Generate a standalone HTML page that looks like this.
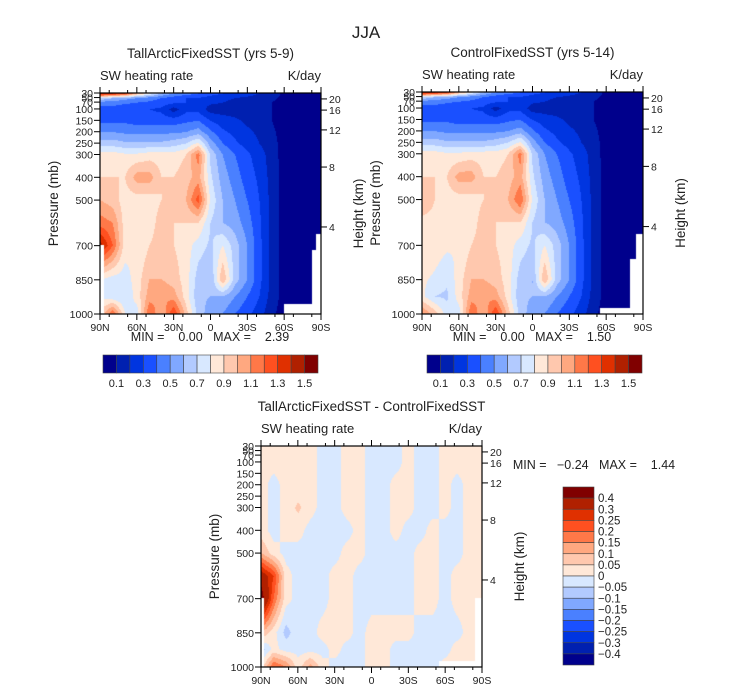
<!DOCTYPE html>
<html><head><meta charset="utf-8">
<style>
body{margin:0;background:#fff;width:733px;height:691px;overflow:hidden;position:relative;font-family:"Liberation Sans",sans-serif;color:#222}
svg{position:absolute;left:0;top:0}
canvas{position:absolute}
</style></head><body>
<canvas id="c1" width="221" height="221" style="left:100px;top:93px"></canvas>
<canvas id="c2" width="221" height="222" style="left:422px;top:92px"></canvas>
<canvas id="c3" width="221" height="221" style="left:261px;top:446px"></canvas>
<svg id="s" width="733" height="691"></svg>
<script>
// ---- data ----
const lats = [90,80,70,60,50,40,30,20,10,0,-10,-20,-30,-40,-50,-60,-70,-80,-90];
const pLevels = [30,50,70,100,150,200,250,300,400,500,600,700,850,925,1000];
const swTall = [
[1.45,1.4,1.3,1.0,0.8,0.6,0.5,0.45,0.4,0.35,0.3,0.28,0.25,0.2,0.15,0.08,0.05,0.05,0.05],
[0.7,0.6,0.55,0.5,0.45,0.4,0.35,0.3,0.3,0.25,0.22,0.2,0.18,0.15,0.12,0.08,0.05,0.05,0.05],
[0.45,0.45,0.42,0.4,0.38,0.35,0.32,0.3,0.25,0.22,0.2,0.18,0.16,0.14,0.1,0.07,0.05,0.05,0.05],
[0.35,0.35,0.33,0.32,0.3,0.28,0.15,0.27,0.27,0.15,0.15,0.15,0.14,0.12,0.1,0.06,0.05,0.05,0.05],
[0.38,0.38,0.38,0.35,0.35,0.35,0.35,0.38,0.4,0.3,0.25,0.22,0.18,0.15,0.1,0.06,0.05,0.05,0.05],
[0.5,0.5,0.48,0.48,0.48,0.48,0.48,0.5,0.55,0.42,0.32,0.27,0.22,0.18,0.12,0.06,0.05,0.05,0.05],
[0.65,0.65,0.62,0.62,0.62,0.62,0.65,0.7,0.82,0.55,0.4,0.32,0.26,0.2,0.14,0.06,0.05,0.05,0.05],
[0.85,0.85,0.82,0.82,0.85,0.85,0.85,0.9,1.15,0.68,0.5,0.4,0.32,0.25,0.15,0.06,0.05,0.05,0.05],
[0.9,0.9,0.9,1.05,1.05,0.9,0.9,0.95,1.05,0.72,0.55,0.45,0.35,0.28,0.16,0.06,0.05,0.05,0.05],
[1.0,0.95,0.85,0.85,0.85,0.9,0.95,1.0,1.25,0.78,0.6,0.5,0.4,0.3,0.17,0.06,0.05,0.05,0.05],
[1.15,1.1,0.85,0.82,0.85,0.95,0.9,0.9,0.9,0.7,0.6,0.55,0.45,0.32,0.17,0.06,0.05,0.05,0.05],
[1.45,1.2,0.85,0.8,0.9,0.95,0.9,0.85,0.75,0.68,0.8,0.65,0.5,0.33,0.17,0.06,0.05,0.05,0.05],
[0.8,0.75,0.75,0.85,1.0,1.0,0.95,0.85,0.65,0.6,1.0,0.65,0.5,0.33,0.17,0.06,0.05,0.05,0.05],
[0.78,0.72,0.7,0.85,1.05,1.1,1.05,0.85,0.62,0.6,0.6,0.5,0.4,0.3,0.16,0.06,0.05,0.05,0.05],
[0.9,1.2,0.8,0.75,1.2,1.0,1.3,0.95,0.65,0.55,0.5,0.4,0.33,0.25,0.12,0.06,0.05,0.05,0.05]];
const swCtrl = [
[1.45,1.4,1.3,1.0,0.8,0.6,0.5,0.45,0.4,0.35,0.3,0.28,0.25,0.2,0.15,0.08,0.05,0.05,0.05],
[0.7,0.6,0.55,0.5,0.45,0.4,0.35,0.3,0.3,0.25,0.22,0.2,0.18,0.15,0.12,0.08,0.05,0.05,0.05],
[0.45,0.45,0.42,0.4,0.38,0.35,0.32,0.3,0.25,0.22,0.2,0.18,0.16,0.14,0.1,0.07,0.05,0.05,0.05],
[0.35,0.35,0.33,0.32,0.3,0.28,0.15,0.27,0.27,0.15,0.15,0.15,0.14,0.12,0.1,0.06,0.05,0.05,0.05],
[0.38,0.38,0.38,0.35,0.35,0.35,0.35,0.38,0.4,0.3,0.25,0.22,0.18,0.15,0.1,0.06,0.05,0.05,0.05],
[0.5,0.5,0.48,0.48,0.48,0.48,0.48,0.5,0.55,0.42,0.32,0.27,0.22,0.18,0.12,0.06,0.05,0.05,0.05],
[0.65,0.65,0.62,0.62,0.62,0.62,0.65,0.7,0.82,0.55,0.4,0.32,0.26,0.2,0.14,0.06,0.05,0.05,0.05],
[0.85,0.85,0.82,0.82,0.85,0.85,0.85,0.9,1.15,0.68,0.5,0.4,0.32,0.25,0.15,0.06,0.05,0.05,0.05],
[0.9,0.9,0.9,1.05,1.05,0.9,0.9,0.95,1.05,0.72,0.55,0.45,0.35,0.28,0.16,0.06,0.05,0.05,0.05],
[0.95,0.9,0.85,0.85,0.85,0.9,0.95,1.0,1.2,0.78,0.6,0.5,0.4,0.3,0.17,0.06,0.05,0.05,0.05],
[0.88,0.88,0.85,0.82,0.85,0.95,0.9,0.9,0.9,0.7,0.6,0.55,0.45,0.32,0.17,0.06,0.05,0.05,0.05],
[0.88,0.86,0.82,0.8,0.9,0.95,0.9,0.85,0.75,0.68,0.8,0.65,0.5,0.33,0.17,0.06,0.05,0.05,0.05],
[0.82,0.78,0.72,0.85,1.0,1.0,0.95,0.85,0.65,0.6,1.0,0.65,0.5,0.33,0.17,0.06,0.05,0.05,0.05],
[0.82,0.7,0.68,0.85,1.05,1.1,1.05,0.85,0.62,0.6,0.6,0.5,0.4,0.3,0.16,0.06,0.05,0.05,0.05],
[1.1,0.95,0.75,0.75,1.2,1.0,1.3,0.95,0.65,0.55,0.5,0.4,0.33,0.25,0.12,0.06,0.05,0.05,0.05]];
const pDiff = [30,100,200,300,400,500,600,700,850,925,1000];
const swDiff = [
[.02,.02,.02,.02,.02,-.02,-.02,.02,.02,-.02,-.02,-.02,.02,-.02,-.02,.02,.02,.02,.02],
[.02,.02,.02,.02,.02,-.02,-.02,.02,.02,-.02,-.02,-.02,.02,-.02,-.02,.02,.02,.02,.02],
[.02,-.02,.02,.02,.02,-.02,-.02,.02,.02,-.02,-.02,.02,.02,-.02,-.02,.02,-.02,.02,.02],
[.02,-.02,.02,.06,.02,-.02,-.02,.02,.02,-.02,-.02,.02,.02,-.02,-.02,.02,-.02,.02,.02],
[.02,-.02,.02,.02,-.02,-.02,-.02,-.02,.02,-.02,-.02,.02,-.02,-.02,.02,-.02,-.02,.02,.02],
[.1,.02,-.02,-.02,-.02,-.02,-.02,.02,.02,-.02,-.02,-.02,-.02,.02,.02,-.02,-.02,.02,.02],
[.35,.25,.02,-.02,-.02,-.02,.02,.02,-.02,-.02,-.02,-.02,-.02,.02,.02,-.02,.02,.02,.02],
[.45,.2,.02,-.02,-.02,-.02,.02,.02,-.02,-.02,-.02,-.02,-.02,.02,.02,-.02,.02,.02,.02],
[.1,.02,-.07,-.02,-.02,.02,.02,.02,-.02,.02,.02,.02,.02,-.02,-.02,-.02,-.02,.02,.02],
[-.08,.02,-.02,-.02,-.02,-.02,.02,-.02,-.02,.02,.02,-.02,-.02,-.02,-.02,-.02,.02,.02,.02],
[.02,.2,.15,.02,.12,.02,-.02,-.02,-.02,.02,.02,-.02,-.02,-.02,-.02,.02,.02,.02,.02]];
const levelsMain = [0.1,0.2,0.3,0.4,0.5,0.6,0.7,0.8,0.9,1.0,1.1,1.2,1.3,1.4,1.5];
const levelsDiff = [-0.4,-0.3,-0.25,-0.2,-0.15,-0.1,-0.05,0,0.05,0.1,0.15,0.2,0.25,0.3,0.4];
const labelsMain = ["0.1","0.3","0.5","0.7","0.9","1.1","1.3","1.5"];
const labelsDiff = ["-0.4","-0.3","-0.25","-0.2","-0.15","-0.1","-0.05","0","0.05","0.1","0.15","0.2","0.25","0.3","0.4"];
const pTicks = [30,50,70,100,150,200,250,300,400,500,700,850,1000];
const hTicks = [20,16,12,8,4];
const hTickP = [56,105,192,355,618];
const latTicks = ["90N","60N","30N","0","30S","60S","90S"];
const colors = ["#00008c","#0020b0","#0035e0","#1a50ff","#4a80ff","#80a8ff","#b2caff","#d8e8ff","#ffe8d8","#ffc8ae","#ffa880","#ff7848","#ff5020","#e03000","#b02000","#800000"];

function hex(c){return [parseInt(c.substr(1,2),16),parseInt(c.substr(3,2),16),parseInt(c.substr(5,2),16)];}
const rgb = colors.map(hex);
function smooth(t){return t*t*(3-2*t);}
function drawField(id, grid, P, levels, mask){
  const cv=document.getElementById(id), ctx=cv.getContext('2d');
  const w=cv.width,h=cv.height, img=ctx.createImageData(w,h);
  for(let py=0;py<h;py++){
    const p=30+970*py/(h-1);
    let k=0; while(k<P.length-2 && P[k+1]<p) k++;
    const fy=Math.min(1,Math.max(0,(p-P[k])/(P[k+1]-P[k])));
    for(let px=0;px<w;px++){
      const lat=90-180*px/(w-1);
      const fc=(90-lat)/10; let c=Math.min(17,Math.floor(fc)); const fx=fc-c;
      const v=(grid[k][c]*(1-fx)+grid[k][c+1]*fx)*(1-fy)+(grid[k+1][c]*(1-fx)+grid[k+1][c+1]*fx)*fy;
      let ci=0; while(ci<levels.length && v>=levels[ci]) ci++;
      let col=rgb[ci];
      if(mask(lat,p)) col=[255,255,255];
      const o=(py*w+px)*4; img.data[o]=col[0];img.data[o+1]=col[1];img.data[o+2]=col[2];img.data[o+3]=255;
    }
  }
  ctx.putImageData(img,0,0);
}
const maskA=(lat,p)=>(lat>87&&p>700)||(lat<-60&&p>960)||(lat<-86&&p>650)||(lat<-83&&p>720);
const maskB=(lat,p)=>(lat<-55&&p>975)||(lat<-85&&p>650)||(lat<-80&&p>760);
const maskC=(lat,p)=>(lat>88&&p>700)||(lat<-55&&p>975)||(lat<-85&&p>700);
drawField('c1',swTall,pLevels,levelsMain,maskA);
drawField('c2',swCtrl,pLevels,levelsMain,maskB);
drawField('c3',swDiff,pDiff,levelsDiff,maskC);

// ---- SVG axes ----
const S=document.getElementById('s'), NS='http://www.w3.org/2000/svg';
function el(tag,attrs,text){const e=document.createElementNS(NS,tag);for(const k in attrs)e.setAttribute(k,attrs[k]);if(text!==undefined)e.textContent=text;S.appendChild(e);return e;}
function txt(x,y,s,size,anchor,name){const t=el('text',{x:x,y:y,'font-size':size,'text-anchor':anchor||'middle','font-family':'"Liberation Sans",sans-serif',fill:'#222',style:'white-space:pre'},s);

return t;}
function axes(x0,y0,w,h,title,pref){
  const yOf=p=>y0+(p-30)/970*h;
  const r=el('rect',{x:x0,y:y0,width:w,height:h,fill:'none',stroke:'#000','stroke-width':1.2});
  
  
  txt(x0+w/2,y0-35,title,13.5,'middle',pref+'-title');
  txt(x0,y0-13,'SW heating rate',13,'start',pref+'-variable-label');
  txt(x0+w,y0-13,'K/day',13,'end',pref+'-units-label');
  pTicks.forEach(p=>{const y=yOf(p);el('line',{x1:x0-6,x2:x0,y1:y,y2:y,stroke:'#000'});
    txt(x0-7,y+4,String(p),10.5,'end',pref+'-pressure-tick-'+p);});
  hTicks.forEach((hk,i)=>{const y=yOf(hTickP[i]);el('line',{x1:x0+w,x2:x0+w+6,y1:y,y2:y,stroke:'#000'});
    txt(x0+w+8,y+4,String(hk),10.5,'start',pref+'-height-tick-'+hk);});
  latTicks.forEach((l,i)=>{const x=x0+w*i/6;el('line',{x1:x,x2:x,y1:y0+h,y2:y0+h+6,stroke:'#000'});
    el('line',{x1:x,x2:x,y1:y0,y2:y0-6,stroke:'#000'});
    txt(x,y0+h+17,l,10.5,'middle',pref+'-lat-tick-'+i);});
  for(let i=0;i<12;i++){const x=x0+w*(i+0.5)/12;el('line',{x1:x,x2:x,y1:y0,y2:y0-3,stroke:'#000'});el('line',{x1:x,x2:x,y1:y0+h,y2:y0+h+3,stroke:'#000'});}
  const a=txt(0,0,'Pressure (mb)',13.5,'middle',pref+'-y-axis-title');a.setAttribute('transform',`translate(${x0-42},${y0+h/2}) rotate(-90)`);
  const b=txt(0,0,'Height (km)',13.5,'middle',pref+'-y2-axis-title');b.setAttribute('transform',`translate(${x0+w+42},${y0+h/2+10}) rotate(-90)`);
}
txt(366,38,'JJA',17,'middle','main-title');
axes(100,93,221,221,'TallArcticFixedSST (yrs 5-9)','tall');
axes(422,92,221,222,'ControlFixedSST (yrs 5-14)','ctrl');
axes(261,446,221,221,'TallArcticFixedSST - ControlFixedSST','diff');
txt(210,341,'MIN =    0.00   MAX =    2.39',12.5,'middle','tall-min-max');
txt(532,341,'MIN =    0.00   MAX =    1.50',12.5,'middle','ctrl-min-max');
txt(594,469,'MIN =   \u22120.24   MAX =    1.44',12.5,'middle','diff-min-max');
function hbar(x0,y0,w,h,pref){
  colors.forEach((c,i)=>{const r=el('rect',{x:x0+w*i/16,y:y0,width:w/16,height:h,fill:c,stroke:'#444','stroke-width':0.6});
    
    });
  labelsMain.forEach((l,i)=>txt(x0+w*(2*i+1)/16,y0+h+14,l,11,'middle',pref+'-colorbar-label'));
}
hbar(103,355,215,18,'tall');hbar(427,355,215,18,'ctrl');
(function(){const x0=563,y0=487,w=31,h=178;
  colors.slice().reverse().forEach((c,i)=>{const r=el('rect',{x:x0,y:y0+h*i/16,width:w,height:h/16,fill:c,stroke:'#444','stroke-width':0.6});
    
    });
  labelsDiff.slice().reverse().forEach((l,i)=>txt(x0+w+4,y0+h*(i+1)/16+4,l.replace('-','\u2212'),11.5,'start','diff-colorbar-label'));
})();
</script>
</body></html>
